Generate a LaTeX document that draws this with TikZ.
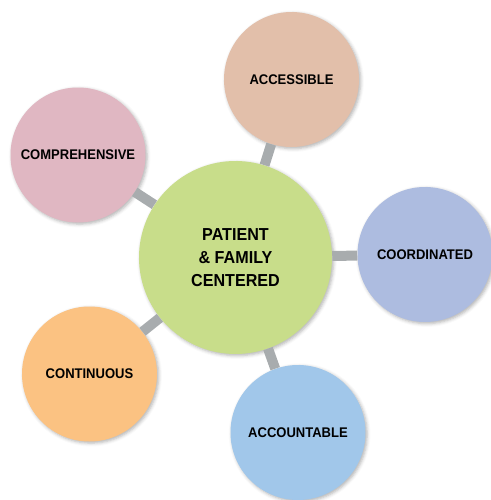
\documentclass[tikz,border=0pt]{standalone}
\usepackage{fontspec}
\usepackage{tikz}
\usetikzlibrary{shadows.blur}
\newfontfamily\labelfont[FakeStretch=0.93]{Liberation Sans}

\definecolor{hubgreen}{RGB}{200,221,138}
\definecolor{peach}{RGB}{226,191,170}
\definecolor{rosepink}{RGB}{224,183,194}
\definecolor{lavender}{RGB}{173,188,224}
\definecolor{apricot}{RGB}{251,194,130}
\definecolor{skyblue}{RGB}{161,199,234}
\definecolor{linkgray}{RGB}{168,172,174}

\tikzset{
  hub/.style={circle, fill=hubgreen, minimum size=144.75pt, inner sep=0pt, align=center,
    font=\labelfont\bfseries\fontsize{13}{17.5}\selectfont,
    blur shadow={shadow xshift=1.2pt, shadow yshift=-1.2pt, shadow blur radius=2.5pt, shadow opacity=30}},
  petal/.style={circle, fill=#1, minimum size=101.25pt, inner sep=0pt,
    font=\labelfont\bfseries\fontsize{10.5}{12}\selectfont,
    blur shadow={shadow xshift=1.2pt, shadow yshift=-1.2pt, shadow blur radius=2.5pt, shadow opacity=30}},
  link/.style={draw=linkgray, line width=7.5pt}
}

\begin{document}
\begin{tikzpicture}[x=0.75pt,y=0.75pt,yscale=-1,xscale=1]
\useasboundingbox (0,0) rectangle (491,500);

%Shape: Circle
\node [hub] (hub) at (235.5,257.5) {PATIENT\\\& FAMILY\\CENTERED};
%Shape: Circle
\node [petal=peach] (access) at (291.5,79.5) {ACCESSIBLE};
%Shape: Circle
\node [petal=rosepink] (compre) at (78,155) {COMPREHENSIVE};
%Shape: Circle
\node [petal=lavender] (coord) at (425,254.5) {COORDINATED};
%Shape: Circle
\node [petal=apricot] (contin) at (89.5,374) {CONTINUOUS};
%Shape: Circle
\node [petal=skyblue] (account) at (298,432.5) {ACCOUNTABLE};

%Straight Lines
\draw [link] (hub) -- (access);
\draw [link] (hub) -- (compre);
\draw [link] (hub) -- (coord);
\draw [link] (hub) -- (contin);
\draw [link] (hub) -- (account);

\end{tikzpicture}
\end{document}
